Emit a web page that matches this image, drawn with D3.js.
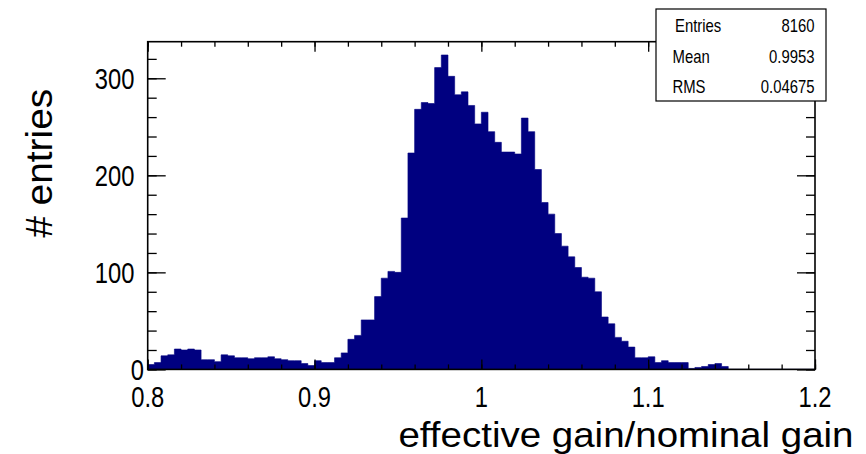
<!DOCTYPE html>
<html>
<head>
<meta charset="utf-8">
<script src="https://cdn.jsdelivr.net/npm/d3@7"></script>
<style>
  html, body { margin: 0; padding: 0; background: #fff; }
  svg { display: block; }
  text { font-family: "Liberation Sans", Arial, Helvetica, sans-serif; fill: #000; }
</style>
</head>
<body>
<svg id="chart" width="866" height="454"></svg>
<script>
// ---------------- data ----------------
const xMin = 0.8;
const xMax = 1.2;
const binWidth = 0.004;
const binCounts = [
  5, 7, 14, 15, 21, 20, 21, 20, 10, 10,
  8, 15, 14, 12, 12, 11, 12, 12, 13, 11,
  10, 9, 9, 6, 4, 9, 7, 7, 12, 17,
  31, 35, 51, 51, 75, 94, 101, 100, 156, 223,
  268, 275, 274, 311, 324, 302, 283, 286, 272, 253,
  265, 245, 234, 224, 224, 222, 259, 245, 206, 172,
  160, 140, 127, 116, 105, 95, 94, 80, 54, 47,
  33, 29, 23, 12, 12, 13, 7, 9, 7, 7,
  7, 1, 2, 3, 5, 6, 3, 0, 0, 0,
  0, 0, 0, 0, 0, 0, 0, 0, 0, 0
];
const yMax = 337.7;
const xMajorTicks = [0.8, 0.9, 1.0, 1.1, 1.2];
const xTickLabels = ["0.8", "0.9", "1", "1.1", "1.2"];
const yMajorTicks = [0, 100, 200, 300];
const yTickLabels = ["0", "100", "200", "300"];
const statsNames = ["Entries", "Mean", "RMS"];
const statsValues = ["8160", "0.9953", "0.04675"];
const xTitle = "effective gain/nominal gain";
const yTitle = "# entries";

// ---------------- layout ----------------
const svg = d3.select("#chart");
const frame = { left: 147.7, right: 815, top: 41.7, bottom: 369.4 };
const fillColor = "#000080";

const x = d3.scaleLinear().domain([xMin, xMax]).range([frame.left, frame.right]);
const y = d3.scaleLinear().domain([0, yMax]).range([frame.bottom, frame.top]);

// histogram bins
const bins = binCounts.map((v, i) => ({ x0: xMin + i * binWidth, v }));
bins.push({ x0: xMin + binCounts.length * binWidth, v: binCounts[binCounts.length - 1] });

const area = d3.area()
  .curve(d3.curveStepAfter)
  .x(d => x(d.x0))
  .y0(y(0))
  .y1(d => y(d.v));

svg.append("path")
  .datum(bins)
  .attr("d", area)
  .attr("fill", fillColor)
  .attr("stroke", fillColor)
  .attr("stroke-width", 0.6);

// ---------------- axes / ticks ----------------
const xMinor = d3.range(0, 21).map(i => xMin + i * 0.02);
const yMinor = d3.range(0, 17).map(i => i * 20);

function clean(g) {
  g.select(".domain").remove();
  g.selectAll("line").attr("stroke", "#000").attr("stroke-width", 1.3);
}

// bottom
svg.append("g").attr("transform", `translate(0,${frame.bottom})`)
  .call(d3.axisBottom(x).tickValues(xMinor).tickSize(-5).tickFormat(""))
  .call(clean);
svg.append("g").attr("transform", `translate(0,${frame.bottom})`)
  .call(d3.axisBottom(x).tickValues(xMajorTicks).tickSize(-10).tickFormat(""))
  .call(clean);
// top
svg.append("g").attr("transform", `translate(0,${frame.top})`)
  .call(d3.axisTop(x).tickValues(xMinor).tickSize(-5).tickFormat(""))
  .call(clean);
svg.append("g").attr("transform", `translate(0,${frame.top})`)
  .call(d3.axisTop(x).tickValues(xMajorTicks).tickSize(-10).tickFormat(""))
  .call(clean);
// left
svg.append("g").attr("transform", `translate(${frame.left},0)`)
  .call(d3.axisLeft(y).tickValues(yMinor).tickSize(-9).tickFormat(""))
  .call(clean);
svg.append("g").attr("transform", `translate(${frame.left},0)`)
  .call(d3.axisLeft(y).tickValues(yMajorTicks).tickSize(-18).tickFormat(""))
  .call(clean);
// right
svg.append("g").attr("transform", `translate(${frame.right},0)`)
  .call(d3.axisRight(y).tickValues(yMinor).tickSize(-9).tickFormat(""))
  .call(clean);
svg.append("g").attr("transform", `translate(${frame.right},0)`)
  .call(d3.axisRight(y).tickValues(yMajorTicks).tickSize(-18).tickFormat(""))
  .call(clean);

// frame
svg.append("rect")
  .attr("x", frame.left).attr("y", frame.top)
  .attr("width", frame.right - frame.left)
  .attr("height", frame.bottom - frame.top)
  .attr("fill", "none").attr("stroke", "#000").attr("stroke-width", 1.6);

// tick labels
const labelSize = 29, squeeze = 0.82;
svg.append("g").selectAll("text")
  .data(xMajorTicks)
  .join("text")
  .attr("transform", d => `translate(${x(d)},406.5) scale(${squeeze},1)`)
  .attr("text-anchor", "middle")
  .style("font-size", labelSize + "px")
  .text((d, i) => xTickLabels[i]);

svg.append("g").selectAll("text")
  .data(yMajorTicks)
  .join("text")
  .attr("transform", d => `translate(${d === 0 ? 144 : 134.5},${y(d) + 10.6}) scale(${squeeze},1)`)
  .attr("text-anchor", "end")
  .style("font-size", labelSize + "px")
  .text((d, i) => yTickLabels[i]);

// axis titles
svg.append("text")
  .attr("transform", "translate(853.5,446.7) scale(1.1,1)")
  .attr("text-anchor", "end")
  .style("font-size", "35px")
  .text(xTitle);

svg.append("text")
  .attr("transform", "translate(51.7,163.3) rotate(-90) scale(1.05,1)")
  .attr("text-anchor", "middle")
  .style("font-size", "37px")
  .text(yTitle);

// stats box
const box = { x: 656, y: 9, w: 170, h: 92 };
svg.append("rect")
  .attr("x", box.x).attr("y", box.y).attr("width", box.w).attr("height", box.h)
  .attr("fill", "#fff").attr("stroke", "#000").attr("stroke-width", 1.2);
const statBase = [31.7, 63.3, 92.7];
const statLeft = [675, 672.5, 672.5];
const sg = svg.append("g");
statsNames.forEach((n, i) => {
  sg.append("text")
    .attr("transform", `translate(${statLeft[i]},${statBase[i]}) scale(0.8,1)`)
    .style("font-size", "18.6px")
    .text(n);
  sg.append("text")
    .attr("transform", `translate(814.5,${statBase[i]}) scale(0.8,1)`)
    .attr("text-anchor", "end")
    .style("font-size", "18.6px")
    .text(statsValues[i]);
});
</script>
</body>
</html>
